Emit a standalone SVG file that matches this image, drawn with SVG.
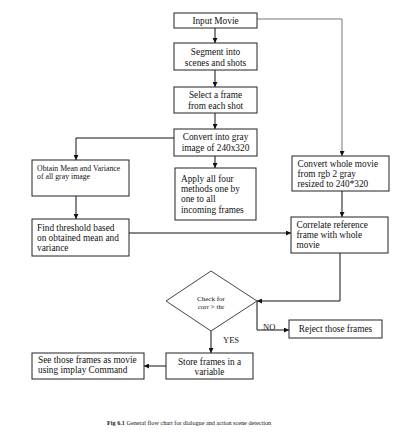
<svg xmlns="http://www.w3.org/2000/svg" width="400" height="436" viewBox="0 0 400 436" font-family="'Liberation Serif', 'Times New Roman', 'DejaVu Serif', serif">
<style>
.box{fill:#fff;stroke:#222;stroke-width:1}
.t{font-family:'Liberation Serif','Times New Roman','DejaVu Serif',serif;font-size:9.3px;fill:#111}
.s{font-size:7.8px}
.c{text-anchor:middle}
.ln{fill:none;stroke:#111;stroke-width:1}
.gr{stroke:#777}
</style>
<defs>
<marker id="ah" viewBox="0 0 6 6" refX="6" refY="3" markerWidth="5" markerHeight="5" orient="auto" markerUnits="userSpaceOnUse">
<path d="M0,0 L6,3 L0,6 z" fill="#111"/>
</marker>
</defs>
<rect width="400" height="436" fill="#fff"/>
<g id="connectors">
<path class="ln" d="M215,28 V43" marker-end="url(#ah)"/>
<path class="ln" d="M215,70 V87" marker-end="url(#ah)"/>
<path class="ln" d="M215,113 V129" marker-end="url(#ah)"/>
<path class="ln" d="M215,156 V168" marker-end="url(#ah)"/>
<path class="ln" d="M174,138 H76 V160" marker-end="url(#ah)"/>
<path class="ln" d="M76,196 V219" marker-end="url(#ah)"/>
<path class="ln" d="M129,233 H291" marker-end="url(#ah)"/>
<path class="ln gr" d="M257,19 H342 V156" marker-end="url(#ah)"/>
<path class="ln" d="M342,191 V217" marker-end="url(#ah)"/>
<path class="ln" d="M340,253 V301 H257" marker-end="url(#ah)"/>
<path class="ln" d="M257,301 V330 H289" marker-end="url(#ah)"/>
<path class="ln" d="M211,331 V353" marker-end="url(#ah)"/>
<path class="ln" d="M166,366 H144" marker-end="url(#ah)"/>
</g>
<g id="input">
<rect class="box" x="174" y="13" width="83" height="15"/>
<text class="t c" x="215.5" y="24">Input Movie</text>
</g>
<g id="segment">
<rect class="box" x="174" y="43" width="83" height="27"/>
<text class="t c" x="215.5" y="54.5">Segment into</text>
<text class="t c" x="215.5" y="65.5">scenes and shots</text>
</g>
<g id="select">
<rect class="box" x="174" y="87" width="83" height="26"/>
<text class="t c" x="215.5" y="97.5">Select a frame</text>
<text class="t c" x="215.5" y="108.5">from each shot</text>
</g>
<g id="convert-gray">
<rect class="box" x="174" y="129" width="83" height="27"/>
<text class="t c" x="215.5" y="139.5">Convert into gray</text>
<text class="t c" x="215.5" y="151">image of 240x320</text>
</g>
<g id="apply">
<rect class="box" x="175" y="168" width="81" height="52"/>
<text class="t" x="181" y="181.5">Apply all four</text>
<text class="t" x="181" y="192">methods one by</text>
<text class="t" x="181" y="202">one to all</text>
<text class="t" x="181" y="212.5">incoming frames</text>
</g>
<g id="obtain">
<rect class="box" x="32" y="160" width="97" height="36"/>
<text class="t s" x="37" y="170.8">Obtain Mean and Variance</text>
<text class="t s" x="37" y="179">of all gray image</text>
</g>
<g id="threshold">
<rect class="box" x="32" y="219" width="97" height="37"/>
<text class="t" x="37" y="230.5">Find threshold based</text>
<text class="t" x="37" y="240.5">on obtained mean and</text>
<text class="t" x="37" y="250.5">variance</text>
</g>
<g id="convert-whole">
<rect class="box" x="292" y="156" width="97" height="35"/>
<text class="t" x="297.5" y="167">Convert whole movie</text>
<text class="t" x="297.5" y="176.5">from rgb 2 gray</text>
<text class="t" x="297.5" y="186.5">resized to 240*320</text>
</g>
<g id="correlate">
<rect class="box" x="291" y="217" width="97" height="36"/>
<text class="t" x="296.5" y="227.5">Correlate reference</text>
<text class="t" x="296.5" y="238">frame with whole</text>
<text class="t" x="296.5" y="248">movie</text>
</g>
<g id="check">
<polygon points="211,271 257,301 211,331 166,301" fill="#fff" stroke="#444" stroke-width="1"/>
<text class="t c" x="211" y="301" style="font-size:7px">Check for</text>
<text class="t c" x="211" y="309" style="font-size:7px">corr &gt; thr</text>
</g>
<g id="reject">
<rect class="box" x="289" y="320" width="93" height="18"/>
<text class="t c" x="335.5" y="332">Reject those frames</text>
</g>
<g id="store">
<rect class="box" x="166" y="353" width="87" height="26"/>
<text class="t c" x="209.5" y="364.5">Store frames in a</text>
<text class="t c" x="209.5" y="375">variable</text>
</g>
<g id="see">
<rect class="box" x="32" y="353" width="112" height="26"/>
<text class="t" x="38" y="363">See those frames as movie</text>
<text class="t" x="38" y="373">using implay Command</text>
</g>
<g id="labels">
<text class="t" x="263" y="329.5" style="font-size:8.5px">NO</text>
<text class="t" x="223" y="342.5" style="font-size:8.5px">YES</text>
</g>
<text class="t" x="107" y="425" style="font-size:6.2px"><tspan font-weight="bold">Fig 6.1</tspan> General flow chart for dialogue and action scene detection</text>
</svg>
